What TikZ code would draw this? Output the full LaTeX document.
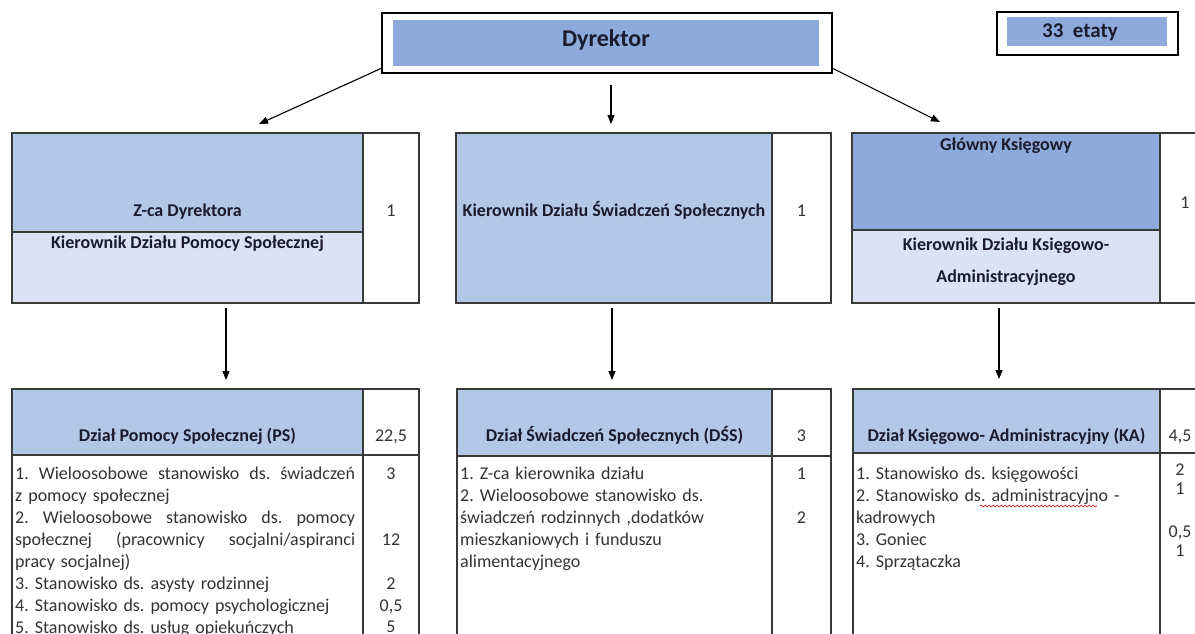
\documentclass[tikz,border=0pt]{standalone}
\usepackage{fontspec}
\setmainfont{Carlito}
\frenchspacing
\usetikzlibrary{arrows.meta,calc,decorations.pathmorphing}
\definecolor{bluemid}{HTML}{8EAADB}
\definecolor{bluelight}{HTML}{B4C7E7}
\definecolor{bluepale}{HTML}{DAE3F3}
\definecolor{lineg}{HTML}{3A3A3A}
\definecolor{txt}{HTML}{1B1B2F}
\definecolor{bodytxt}{HTML}{333333}
\newcommand{\jline}[1]{\leavevmode\hbox to 340pt{#1}}
\begin{document}
\begin{tikzpicture}[x=1pt,y=-1pt,
  box/.style={draw=lineg, line width=1.1pt, anchor=north west, inner sep=0pt, outer sep=0pt},
  fbox/.style={anchor=north west, inner sep=0pt, outer sep=0pt},
  hd/.style={font=\fontsize{18}{21}\selectfont\bfseries, text=txt, inner sep=0pt, anchor=base},
  num/.style={font=\fontsize{18}{21}\selectfont, text=bodytxt, inner sep=0pt, anchor=base},
  body/.style={font=\fontsize{18}{22}\selectfont, text=bodytxt, inner sep=0pt, anchor=north west, align=left, text width=345pt},
  arr/.style={draw=black, line width=1.1pt, -{Triangle[length=9pt,width=7pt]}}]
\useasboundingbox (0,0) rectangle (1195,634);
\fill[white] (0,0) rectangle (1195,634);
\clip (0,0) rectangle (1195,634);

% Dyrektor
\node[fbox, fill=bluemid, minimum width=426pt, minimum height=46pt] (dyrin) at (393,20) {};
\node[box, draw=black, line width=1.6pt, minimum width=450pt, minimum height=60pt] (dyr) at (382,13) {};
\node[font=\fontsize{24}{28}\selectfont\bfseries, text=txt, inner sep=0pt, anchor=base] (dyrt) at (606,47) {Dyrektor};

% 33 etaty
\node[fbox, fill=bluemid, minimum width=160pt, minimum height=29pt] (etin) at (1007,17) {};
\node[box, draw=black, line width=1.4pt, minimum width=181pt, minimum height=43pt] (et) at (997,12) {};
\node[font=\fontsize{21}{24}\selectfont\bfseries, text=txt, inner sep=0pt, anchor=base] (ett) at (1080,38) {33\ \ etaty};

% top row boxes
\node[box, fill=bluelight, minimum width=351pt, minimum height=99pt] (zcaU) at (12,133) {};
\node[box, fill=bluepale, minimum width=351pt, minimum height=71pt] (zcaL) at (12,232) {};
\node[box, minimum width=56pt, minimum height=170pt] (zcaN) at (363,133) {};

\node[box, fill=bluelight, minimum width=316pt, minimum height=170pt] (kds) at (456,133) {};
\node[box, minimum width=59pt, minimum height=170pt] (kdsN) at (772,133) {};

\node[box, fill=bluemid, minimum width=308pt, minimum height=97pt] (gkU) at (852,133) {};
\node[box, fill=bluepale, minimum width=308pt, minimum height=73pt] (gkL) at (852,230) {};
\node[box, minimum width=55pt, minimum height=170pt] (gkN) at (1160,133) {};

% top row texts
\node[hd] (t1) at (187.5,216) {Z-ca Dyrektora};
\node[hd] (t2) at (187.5,248) {Kierownik Działu Pomocy Społecznej};
\node[num] (n1) at (391,216) {1};
\node[hd] (t3) at (614,216) {Kierownik Działu Świadczeń Społecznych};
\node[num] (n2) at (801.5,216) {1};
\node[hd] (t4) at (1006,150) {Główny Księgowy};
\node[hd] (t5) at (1006,250) {Kierownik Działu Księgowo-};
\node[hd] (t6) at (1006,282) {Administracyjnego};
\node[num] (n3) at (1185,208) {1};

% bottom row boxes
\node[box, fill=bluelight, minimum width=351pt, minimum height=66pt] (psh) at (12,389) {};
\node[box, minimum width=56pt, minimum height=66pt] (pshN) at (363,389) {};
\node[box, minimum width=351pt, minimum height=250pt] (psb) at (12,455) {};
\node[box, minimum width=56pt, minimum height=250pt] (psbN) at (363,455) {};

\node[box, fill=bluelight, minimum width=315pt, minimum height=67pt] (dsh) at (457,389) {};
\node[box, minimum width=59pt, minimum height=67pt] (dshN) at (772,389) {};
\node[box, minimum width=315pt, minimum height=250pt] (dsb) at (457,456) {};
\node[box, minimum width=59pt, minimum height=250pt] (dsbN) at (772,456) {};

\node[box, fill=bluelight, minimum width=307pt, minimum height=64pt] (kah) at (853,389) {};
\node[box, minimum width=55pt, minimum height=64pt] (kahN) at (1160,389) {};
\node[box, minimum width=307pt, minimum height=250pt] (kab) at (853,453) {};
\node[box, minimum width=55pt, minimum height=250pt] (kabN) at (1160,453) {};

% bottom headers
\node[hd] (h1) at (187.5,441) {Dział Pomocy Społecznej (PS)};
\node[num] (hn1) at (391,441) {22,5};
\node[hd] (h2) at (614.5,441) {Dział Świadczeń Społecznych (DŚS)};
\node[num] (hn2) at (801.5,441) {3};
\node[hd] (h3) at (1006.5,441) {Dział Księgowo- Administracyjny (KA)};
\node[num] (hn3) at (1180,441) {4,5};

% bottom bodies
\node[body] (b1) at (15,464) {\rule{0pt}{15pt}\jline{1.\hfill Wieloosobowe\hfill stanowisko\hfill ds.\hfill świadczeń}\\
z pomocy społecznej\\
\jline{2.\hfill Wieloosobowe\hfill stanowisko\hfill ds.\hfill pomocy}\\
\jline{społecznej\hfill (pracownicy\hfill socjalni/aspiranci}\\
pracy socjalnej)\\
3. Stanowisko ds. asysty rodzinnej\\
4. Stanowisko ds. pomocy psychologicznej\\
5. Stanowisko ds. usług opiekuńczych};
\node[num] (b1n1) at (391,479) {3};
\node[num] (b1n2) at (391,545) {12};
\node[num] (b1n3) at (391,589) {2};
\node[num] (b1n4) at (391,611) {0,5};
\node[num] (b1n5) at (391,632) {5};

\node[body, text width=305pt] (b2) at (460,464) {\rule{0pt}{15pt}1. Z-ca kierownika działu\\
2. Wieloosobowe stanowisko ds.\\
świadczeń rodzinnych ,dodatków\\
mieszkaniowych i funduszu\\
alimentacyjnego};
\node[num] (b2n1) at (801.5,479) {1};
\node[num] (b2n2) at (801.5,523) {2};

\node[body, text width=300pt] (b3) at (856,464) {\rule{0pt}{15pt}1. Stanowisko ds. księgowości\\
2. Stanowisko ds. administracyjno -\\
kadrowych\\
3. Goniec\\
4. Sprzątaczka};
\draw[red!80!black, line width=0.6pt, decorate, decoration={snake, amplitude=1pt, segment length=4pt}] (980,506) -- (1097,506);
\node[num] (b3n1) at (1180,475) {2};
\node[num] (b3n2) at (1180,494) {1};
\node[num] (b3n3) at (1180,537) {0,5};
\node[num] (b3n4) at (1180,556) {1};

% connectors
\coordinate (tL) at (259,124);
\coordinate (tR) at (940,122);
\coordinate (xM) at (611,0);
\coordinate (xL) at (226,0);
\coordinate (xC) at (612,0);
\coordinate (xR) at (999,0);
\draw[arr] ($(dyr.south west)+(0,-5)$) -- (tL);
\draw[arr] ($(dyr.south east)+(0,-5)$) -- (tR);
\draw[arr, shorten <=12pt, shorten >=9pt] (xM |- dyr.south) -- (xM |- kds.north);
\draw[arr, shorten <=5pt, shorten >=9pt] (xL |- zcaL.south) -- (xL |- psh.north);
\draw[arr, shorten <=5pt, shorten >=9pt] (xC |- kds.south) -- (xC |- dsh.north);
\draw[arr, shorten <=5pt, shorten >=10pt] (xR |- gkL.south) -- (xR |- kah.north);
\end{tikzpicture}
\end{document}
